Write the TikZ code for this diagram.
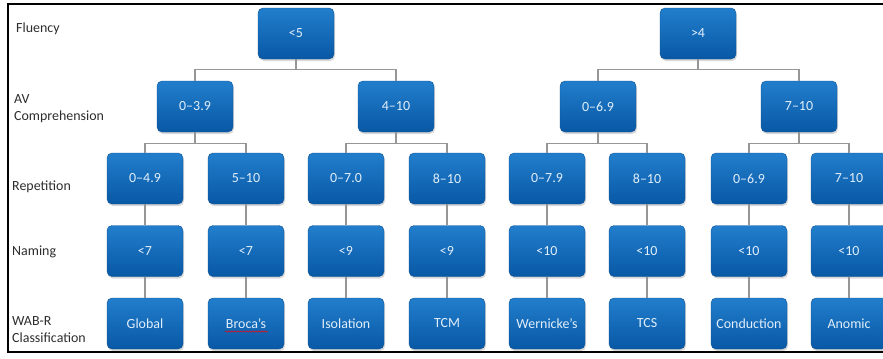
\documentclass[tikz,border=0pt]{standalone}
\usepackage{fontspec}
\setmainfont{Carlito}
\usepackage{tikz}
\usetikzlibrary{shadows}
\usetikzlibrary{decorations.pathmorphing}
\usepackage{xcolor}
\definecolor{BoxTop}{RGB}{34,126,204}
\definecolor{BoxBot}{RGB}{8,88,165}
\definecolor{BoxEdge}{RGB}{14,84,150}
\definecolor{BoxText}{RGB}{226,239,251}
\definecolor{LineGray}{RGB}{150,150,150}
\definecolor{LabelGray}{RGB}{45,45,45}
\tikzstyle{NodeTree}=[rectangle,rounded corners=5bp,draw=BoxEdge,line width=.4pt,
top color=BoxTop,bottom color=BoxBot,text=BoxText,minimum width=76bp,minimum height=51bp,
inner sep=1pt,font=\fontsize{14}{16}\selectfont,
drop shadow={shadow xshift=1bp,shadow yshift=-2bp,opacity=.3}]
\tikzstyle{EdgeTree}=[LineGray,line width=1.2bp]
\tikzstyle{RowLabel}=[anchor=west,align=left,inner sep=0pt,text=LabelGray,
font=\fontsize{14}{17}\selectfont]

\begin{document}
\begin{tikzpicture}[x=1bp,y=-1bp]
        \useasboundingbox (0,0) rectangle (883,358);
        \fill[white] (-10,-10) rectangle (900,370);
        \draw[line width=2.5bp] (900,4)--(8,4)--(8,352)--(900,352);
        % row labels
        \node[RowLabel](lf)at(16,29){Fluency};
        \node[RowLabel](la)at(14,108.5){AV\\Comprehension};
        \node[RowLabel](lr)at(12,187){Repetition};
        \node[RowLabel](ln)at(12,252){Naming};
        \node[RowLabel](lw)at(12,329.5){WAB-R\\Classification};
        % fluency
        \node[NodeTree](f1)at(296,33.5){<5};
        \node[NodeTree](f2)at(698,33.5){>4};
        % comprehension
        \node[NodeTree](a1)at(195,106.5){0--3.9};
        \node[NodeTree](a2)at(396,106.5){4--10};
        \node[NodeTree](a3)at(598,106.5){0--6.9};
        \node[NodeTree](a4)at(799,106.5){7--10};
        % repetition
        \node[NodeTree](r1)at(145,178.5){0--4.9};
        \node[NodeTree](r2)at(246,178.5){5--10};
        \node[NodeTree](r3)at(346,178.5){0--7.0};
        \node[NodeTree](r4)at(447,178.5){8--10};
        \node[NodeTree](r5)at(547,178.5){0--7.9};
        \node[NodeTree](r6)at(647,178.5){8--10};
        \node[NodeTree](r7)at(749,178.5){0--6.9};
        \node[NodeTree](r8)at(849,178.5){7--10};
        % naming
        \node[NodeTree](n1)at(145,251){<7};
        \node[NodeTree](n2)at(246,251){<7};
        \node[NodeTree](n3)at(346,251){<9};
        \node[NodeTree](n4)at(447,251){<9};
        \node[NodeTree](n5)at(547,251){<10};
        \node[NodeTree](n6)at(647,251){<10};
        \node[NodeTree](n7)at(749,251){<10};
        \node[NodeTree](n8)at(849,251){<10};
        % classification
        \node[NodeTree](w1)at(145,323.5){Global};
        \node[NodeTree](w2)at(246,323.5){Broca's};
        \node[NodeTree](w3)at(346,323.5){Isolation};
        \node[NodeTree](w4)at(447,323.5){TCM};
        \node[NodeTree](w5)at(547,323.5){Wernicke's};
        \node[NodeTree](w6)at(647,323.5){TCS};
        \node[NodeTree](w7)at(749,323.5){Conduction};
        \node[NodeTree](w8)at(849,323.5){Anomic};
        \draw[red,line width=.5pt,decorate,decoration={snake,amplitude=.7pt,segment length=3pt}]
            ([xshift=-21bp,yshift=-8bp]w2.center)--([xshift=22bp,yshift=-8bp]w2.center);
        % edges
        \draw[EdgeTree](f1.south)--++(0,10)-|(a1.north);
        \draw[EdgeTree](f1.south)--++(0,10)-|(a2.north);
        \draw[EdgeTree](f2.south)--++(0,10)-|(a3.north);
        \draw[EdgeTree](f2.south)--++(0,10)-|(a4.north);
        \draw[EdgeTree](a1.south)--++(0,11)-|(r1.north);
        \draw[EdgeTree](a1.south)--++(0,11)-|(r2.north);
        \draw[EdgeTree](a2.south)--++(0,11)-|(r3.north);
        \draw[EdgeTree](a2.south)--++(0,11)-|(r4.north);
        \draw[EdgeTree](a3.south)--++(0,11)-|(r5.north);
        \draw[EdgeTree](a3.south)--++(0,11)-|(r6.north);
        \draw[EdgeTree](a4.south)--++(0,11)-|(r7.north);
        \draw[EdgeTree](a4.south)--++(0,11)-|(r8.north);
        \draw[EdgeTree](r1)--(n1);\draw[EdgeTree](n1)--(w1);
        \draw[EdgeTree](r2)--(n2);\draw[EdgeTree](n2)--(w2);
        \draw[EdgeTree](r3)--(n3);\draw[EdgeTree](n3)--(w3);
        \draw[EdgeTree](r4)--(n4);\draw[EdgeTree](n4)--(w4);
        \draw[EdgeTree](r5)--(n5);\draw[EdgeTree](n5)--(w5);
        \draw[EdgeTree](r6)--(n6);\draw[EdgeTree](n6)--(w6);
        \draw[EdgeTree](r7)--(n7);\draw[EdgeTree](n7)--(w7);
        \draw[EdgeTree](r8)--(n8);\draw[EdgeTree](n8)--(w8);
    \end{tikzpicture}
\end{document}
